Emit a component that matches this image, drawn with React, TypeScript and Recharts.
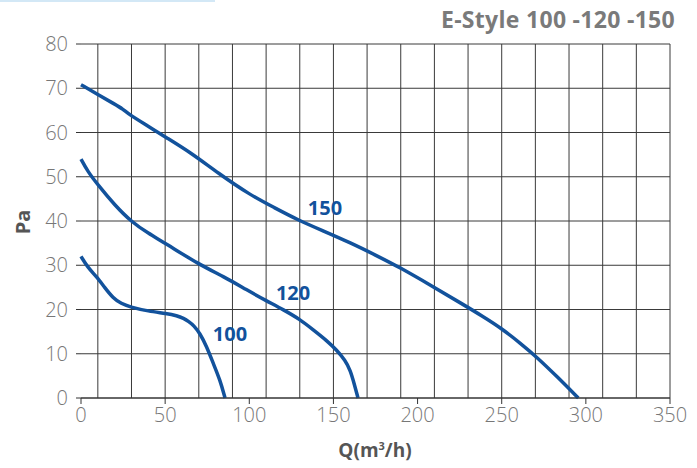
import { CartesianGrid, Line, LineChart, ReferenceDot, XAxis, YAxis } from "recharts";

const xTicks = [0, 50, 100, 150, 200, 250, 300, 350];
const yTicks = [0, 10, 20, 30, 40, 50, 60, 70, 80];
const gridX = [0, 10, 20, 30, 40, 50, 60, 70, 80, 90, 100, 110, 120, 130, 140, 150, 160, 170, 180, 190, 200, 210, 220, 230, 240, 250, 260, 270, 280, 290, 300, 310, 320, 330, 340, 350];

// Q (m3/h), Pa
const curve150 = [
  [0, 70.8], [10, 68.6], [20, 66.4], [25, 65.3], [28, 64.2], [40, 61.4], [50, 59], [65, 55.5],
  [81.5, 50.8], [100, 46], [115, 43], [129, 40.2], [145, 37.6], [160, 35.1], [175, 32.3],
  [189.5, 29.5], [209, 25.2], [225, 21.6], [239, 18.4], [250, 15.7], [261, 12.4], [271, 9.2],
  [283, 4.8], [295.5, 0],
].map(([q, pa]) => ({ q, pa }));

const curve120 = [
  [0, 54], [4, 51.2], [10, 48.2], [20, 43.6], [30, 39.8], [40, 37.2], [50, 35], [70, 30.2],
  [85, 27.4], [98.6, 24.4], [110, 22], [120, 20], [130, 17.8], [138, 15.4], [146, 13],
  [152, 10.8], [157, 8.5], [160, 6.3], [162.5, 3], [164.6, 0],
].map(([q, pa]) => ({ q, pa }));

const curve100 = [
  [0, 32], [4, 29.5], [9.3, 27.4], [14, 25], [19, 22.6], [24, 21.3], [29, 20.6], [40, 19.6],
  [51, 19.1], [57, 18.6], [61, 18], [64, 17.3], [67, 16.4], [70.7, 14.6], [74.7, 11.6],
  [78.6, 7.8], [82.6, 4.1], [85.6, 0],
].map(([q, pa]) => ({ q, pa }));

const curveLabels = [
  { name: "150", q: 145, pa: 42.9 },
  { name: "120", q: 126, pa: 23.7 },
  { name: "100", q: 88.5, pa: 14.5 },
];

const BLUE = "#12529c";
const FONT = "'Open Sans', 'DejaVu Sans', sans-serif";

export default function App() {
  return (
    <div
      style={{
        position: "absolute",
        left: 0,
        top: 0,
        width: 697,
        height: 468,
        background: "#fff",
        fontFamily: FONT,
        overflow: "hidden",
      }}
    >
      <div style={{ position: "absolute", left: 0, top: 0, width: 215, height: 2, background: "#d3e8f6" }} />
      <div
        style={{
          position: "absolute",
          right: 22,
          top: 3,
          fontSize: 23,
          fontWeight: 700,
          color: "#7a7a7a",
          whiteSpace: "nowrap",
          letterSpacing: 0.3,
        }}
      >
        E-Style 100 -120 -150
      </div>
      <LineChart
        width={697}
        height={468}
        margin={{ top: 44, right: 27, bottom: 20, left: 0 }}
      >
        <CartesianGrid
          stroke="#3a3a3a"
          strokeWidth={1}
          verticalValues={gridX}
          horizontalValues={yTicks}
        />
        <XAxis
          type="number"
          dataKey="q"
          domain={[0, 350]}
          ticks={xTicks}
          height={50}
          axisLine={{ stroke: "#333" }}
          tickLine={{ stroke: "#333" }}
          tickSize={6}
          tickMargin={4}
          tick={{ fill: "#777", fontSize: 20, fontWeight: 300, fontFamily: FONT }}
          allowDuplicatedCategory={false}
        />
        <YAxis
          type="number"
          dataKey="pa"
          domain={[0, 80]}
          ticks={yTicks}
          width={81}
          axisLine={false}
          tickLine={{ stroke: "#333" }}
          tickSize={5}
          tickMargin={8}
          tick={{ fill: "#777", fontSize: 20, fontWeight: 300, fontFamily: FONT }}
        />
        <Line data={curve150} dataKey="pa" type="basis" stroke={BLUE} strokeWidth={3.5} dot={false} isAnimationActive={false} />
        <Line data={curve120} dataKey="pa" type="basis" stroke={BLUE} strokeWidth={3.5} dot={false} isAnimationActive={false} />
        <Line data={curve100} dataKey="pa" type="basis" stroke={BLUE} strokeWidth={3.5} dot={false} isAnimationActive={false} />
        {curveLabels.map((l) => (
          <ReferenceDot
            key={l.name}
            x={l.q}
            y={l.pa}
            r={0}
            stroke="none"
            fill="none"
            label={{
              value: l.name,
              position: "center",
              fill: BLUE,
              fontSize: 20,
              fontWeight: 700,
              fontFamily: FONT,
            }}
          />
        ))}
      </LineChart>
      <div
        style={{
          position: "absolute",
          left: 22,
          top: 222,
          transform: "translate(-50%, -50%) rotate(-90deg)",
          fontSize: 20,
          fontWeight: 700,
          color: "#555",
        }}
      >
        Pa
      </div>
      <div
        style={{
          position: "absolute",
          left: 375,
          top: 450,
          transform: "translate(-50%, -50%)",
          fontSize: 19,
          fontWeight: 700,
          color: "#555",
          whiteSpace: "nowrap",
        }}
      >
        Q(m<sup style={{ fontSize: 11 }}>3</sup>/h)
      </div>
    </div>
  );
}
